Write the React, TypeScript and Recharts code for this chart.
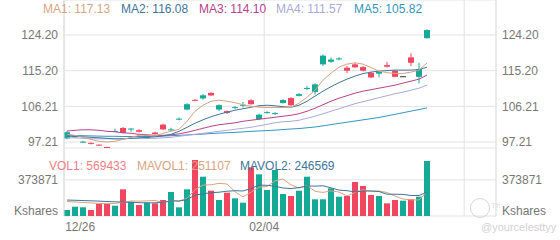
import React from 'react';
import { ComposedChart, Bar, Line, XAxis, YAxis, CartesianGrid, Cell } from 'recharts';

const FONT = '"Liberation Sans", Arial, sans-serif';

// daily candles, oldest first
const opens = [98.1, 98.4, 97.2, 97.0, 96.55, 95.95, 99.9, 100.75, 100.4, 100.2, 98.1, 99.6, 101.6, 100.2, 102.9, 105.4, 107.85, 108.2, 109.6, 105.4, 105.0, 105.8, 106.4, 107.75, 103.0, 104.55, 104.3, 107.05, 108.3, 108.85, 110.6, 109.85, 116.8, 117.45, 118.05, 115.95, 116.8, 116.1, 114.65, 114.45, 116.6, 115.2, 113.8, 118.55, 113.65, 123.4];
const closes = [99.7, 98.7, 97.3, 96.8, 96.35, 95.8, 100.0, 99.5, 100.6, 99.8, 98.9, 99.2, 100.4, 100.4, 103.1, 106.75, 107.65, 109.0, 108.95, 106.5, 104.55, 106.0, 106.6, 106.75, 104.1, 104.75, 104.5, 107.8, 106.5, 109.3, 110.85, 111.75, 119.0, 118.0, 118.3, 115.2, 116.05, 115.2, 113.5, 114.9, 116.2, 113.65, 113.8, 117.2, 115.6, 125.45];
const highs = [99.9, 98.9, 97.5, 97.1, 96.6, 96.0, 100.6, 101.0, 100.7, 100.4, 99.0, 99.8, 101.8, 100.8, 103.4, 107.0, 108.0, 109.3, 109.8, 106.7, 105.2, 106.3, 107.3, 108.0, 104.4, 105.0, 104.7, 108.0, 108.5, 109.5, 111.3, 112.0, 119.3, 118.5, 118.6, 116.4, 117.2, 116.4, 114.9, 115.0, 117.4, 115.4, 113.85, 119.6, 117.2, 125.6];
const lows = [97.9, 98.2, 97.0, 96.6, 96.3, 95.75, 99.8, 99.4, 99.8, 99.6, 98.0, 99.1, 100.2, 100.0, 102.7, 105.2, 107.5, 107.9, 108.8, 105.05, 104.3, 105.6, 105.9, 106.6, 102.7, 104.4, 104.0, 106.9, 106.3, 108.7, 110.3, 109.2, 116.4, 117.2, 117.8, 114.6, 115.9, 115.0, 113.3, 113.5, 116.0, 113.5, 113.75, 116.35, 112.0, 123.3];
const volumes = [62100, 96300, 90200, 62400, 124300, 124100, 106800, 276200, 148300, 113900, 137800, 131200, 165600, 248400, 90100, 276300, 579800, 406900, 261800, 165700, 241300, 183200, 137900, 504100, 431600, 269200, 476200, 227800, 207100, 261900, 406800, 172900, 173100, 286700, 199800, 207200, 352100, 310600, 217300, 206900, 131300, 165800, 158400, 172800, 199900, 569433];

const ma1 = [99.15, 98.9, 98.39, 97.89, 97.38, 97.2, 97.38, 97.89, 98.39, 98.9, 98.9, 98.77, 99.41, 99.91, 100.42, 102.44, 104.97, 106.49, 107.5, 107.75, 107.5, 107.12, 106.62, 106.24, 105.98, 105.91, 105.91, 105.91, 105.98, 107.0, 108.51, 110.29, 112.82, 114.59, 116.1, 116.86, 117.19, 116.86, 115.98, 115.09, 114.71, 114.51, 114.51, 114.84, 115.35, 117.13];
const ma2 = [98.65, 98.65, 98.52, 98.39, 98.27, 98.14, 98.01, 98.01, 98.14, 98.27, 98.39, 98.52, 98.77, 99.15, 99.91, 100.92, 101.94, 102.82, 103.58, 104.21, 104.72, 105.23, 105.6, 105.98, 106.36, 106.49, 106.36, 106.11, 105.98, 106.49, 107.5, 108.77, 110.03, 111.17, 112.18, 113.07, 113.83, 114.46, 114.84, 115.09, 115.22, 115.35, 115.35, 115.35, 115.47, 116.08];
const ma3 = [99.99, 100.16, 100.29, 100.29, 100.16, 99.91, 99.79, 99.53, 99.41, 99.15, 99.03, 98.9, 98.9, 99.03, 99.28, 99.66, 100.16, 100.67, 101.18, 101.56, 101.81, 102.06, 102.44, 102.7, 102.95, 103.2, 103.45, 103.71, 103.96, 104.34, 104.97, 105.73, 106.62, 107.5, 108.26, 108.89, 109.53, 110.03, 110.41, 110.79, 111.17, 111.55, 112.06, 112.56, 113.07, 114.1];
const ma4 = [98.27, 98.27, 98.14, 98.01, 98.01, 98.01, 98.01, 98.01, 98.14, 98.14, 98.14, 98.14, 98.27, 98.39, 98.65, 98.9, 99.15, 99.41, 99.66, 99.91, 100.16, 100.42, 100.67, 100.92, 101.3, 101.68, 102.06, 102.32, 102.44, 102.7, 103.2, 103.71, 104.34, 104.97, 105.6, 106.24, 106.87, 107.38, 107.88, 108.39, 108.89, 109.4, 109.78, 110.29, 110.79, 111.57];
const ma5 = [98.9, 98.85, 98.8, 98.75, 98.7, 98.65, 98.65, 98.6, 98.6, 98.6, 98.6, 98.65, 98.7, 98.8, 98.9, 99.0, 99.1, 99.2, 99.35, 99.45, 99.55, 99.65, 99.75, 99.9, 100.0, 100.1, 100.2, 100.35, 100.5, 100.6, 100.8, 101.0, 101.3, 101.6, 101.9, 102.2, 102.5, 102.8, 103.1, 103.4, 103.8, 104.2, 104.6, 105.0, 105.4, 105.82];

const mavol1 = [150000, 145000, 140000, 135000, 130000, 128000, 130000, 140000, 155800, 153800, 156600, 161400, 139400, 159400, 154600, 182200, 272000, 320200, 323000, 338200, 331200, 251800, 198000, 246400, 299600, 305200, 363800, 381800, 322400, 288400, 316000, 255400, 244400, 260400, 248000, 208000, 243800, 271400, 257400, 258800, 243600, 206400, 175800, 167000, 165600, 251107];
const mavol2 = [165000, 163000, 160000, 157000, 154000, 150000, 147000, 144000, 141000, 138000, 136000, 137000, 141000, 157600, 154200, 169400, 216700, 229800, 241200, 246400, 256700, 261900, 259100, 284700, 318900, 318200, 307800, 289900, 284400, 294000, 310600, 309600, 313100, 291400, 268200, 262000, 249600, 257900, 258900, 253400, 225800, 225100, 223600, 212200, 212200, 246569];

const priceTicks = [97.21, 106.21, 115.2, 124.2];
const volTicks = [0, 373871];
const dateTickIndex = [0, 25, 50];
const dateLabels = ['12/26', '02/04', ''];

const UP = '#14aa96';
const DOWN = '#f0465f';
const C_MA1 = '#d9a383';
const C_MA2 = '#41759a';
const C_MA3 = '#b8428e';
const C_MA4 = '#aaa8dc';
const C_MA5 = '#3595c2';
const C_VOL = '#ec7f83';
const GRID = '#e3e3e3';
const AXIS_TXT = '#777';

const rows = opens.map((o, i) => ({
  i,
  open: o,
  close: closes[i],
  high: highs[i],
  low: lows[i],
  range: [lows[i], highs[i]],
  vol: volumes[i],
  ma1: ma1[i],
  ma2: ma2[i],
  ma3: ma3[i],
  ma4: ma4[i],
  ma5: ma5[i],
  mavol1: mavol1[i],
  mavol2: mavol2[i],
}));

const gridTicks = dateTickIndex.map((d) => d - 0.35);
const last = rows.length - 1;

const candleColor = (o: number, c: number) => (c > o ? UP : c < o ? DOWN : '#333');

const Candle = (props: any) => {
  const { x, y, width, height, payload } = props;
  if (x == null || y == null || !payload) return null;
  const { open, close, high, low } = payload;
  const top = Math.min(y, y + height);
  const h = Math.abs(height);
  const ppu = high > low ? h / (high - low) : 0;
  const bTop = top + (high - Math.max(open, close)) * ppu;
  const bBot = top + (high - Math.min(open, close)) * ppu;
  const cx = x + width / 2;
  const color = candleColor(open, close);
  return (
    <g>
      <line x1={cx} x2={cx} y1={top} y2={top + h} stroke={color} strokeWidth={1} />
      <rect x={x} y={bTop} width={width} height={Math.max(1, bBot - bTop)} fill={color} />
    </g>
  );
};

const VolTick = (props: any) => {
  const { x, y, payload, textAnchor } = props;
  const zero = payload.value === 0;
  return (
    <text x={x} y={y} dy={zero ? -1.5 : 4.3} textAnchor={textAnchor} fill={AXIS_TXT} fontSize={12} fontFamily={FONT}>
      {zero ? 'Kshares' : String(payload.value)}
    </text>
  );
};

const DateTick = (props: any) => {
  const { x, y, index } = props;
  const first = index === 0;
  return (
    <text x={first ? x + 1 : x} y={y} dy="0.71em" textAnchor={first ? 'start' : 'middle'} fill={AXIS_TXT} fontSize={12} fontFamily={FONT}>
      {dateLabels[index]}
    </text>
  );
};

const lineProps = { dot: false, strokeWidth: 1, isAnimationActive: false, activeDot: false } as any;

export default function App() {
  const maLegend = [
    { name: 'MA1', v: ma1[last], c: C_MA1, left: 43 },
    { name: 'MA2', v: ma2[last], c: C_MA2, left: 121 },
    { name: 'MA3', v: ma3[last], c: C_MA3, left: 199 },
    { name: 'MA4', v: ma4[last], c: C_MA4, left: 276 },
    { name: 'MA5', v: ma5[last], c: C_MA5, left: 354 },
  ];
  const volLegend = [
    { text: `VOL1: ${volumes[last]}`, c: C_VOL, left: 49 },
    { text: `MAVOL1: ${mavol1[last]}`, c: C_MA1, left: 137 },
    { text: `MAVOL2: ${mavol2[last]}`, c: C_MA2, left: 240 },
  ];

  return (
    <div style={{ position: 'absolute', left: 0, top: 0, width: 560, height: 240, background: '#fff', overflow: 'hidden', fontFamily: FONT }}>
      {/* price pane */}
      <div style={{ position: 'absolute', left: 0, top: 0 }}>
        <ComposedChart width={560} height={148} data={rows} margin={{ top: 0, right: 0, bottom: 0, left: 0 }}>
          <CartesianGrid stroke={GRID} yAxisId="l" />
          <XAxis type="number" dataKey="i" domain={[-0.375, 53.625]} allowDataOverflow ticks={gridTicks} interval={0} hide />
          <YAxis
            yAxisId="l"
            orientation="left"
            width={64}
            domain={[95.7, 133.03]}
            allowDataOverflow
            ticks={priceTicks}
            interval={0}
            tickFormatter={(v: number) => v.toFixed(2)}
            axisLine={{ stroke: GRID }}
            tickLine={false}
            tickSize={6}
            tickMargin={0}
            tick={{ fill: AXIS_TXT, fontSize: 12, fontFamily: FONT }}
          />
          <YAxis
            yAxisId="r"
            orientation="right"
            width={64}
            domain={[95.7, 133.03]}
            allowDataOverflow
            ticks={priceTicks}
            interval={0}
            tickFormatter={(v: number) => v.toFixed(2)}
            axisLine={{ stroke: GRID }}
            tickLine={false}
            tickSize={6}
            tickMargin={0}
            tick={{ fill: AXIS_TXT, fontSize: 12, fontFamily: FONT }}
          />
          <Line yAxisId="r" dataKey="ma5" stroke={C_MA5} {...lineProps} />
          <Line yAxisId="l" dataKey="ma4" stroke={C_MA4} {...lineProps} />
          <Line yAxisId="l" dataKey="ma3" stroke={C_MA3} {...lineProps} />
          <Line yAxisId="l" dataKey="ma2" stroke={C_MA2} {...lineProps} />
          <Line yAxisId="l" dataKey="ma1" stroke={C_MA1} {...lineProps} />
          <Bar yAxisId="l" dataKey="range" barSize={6} shape={<Candle />} isAnimationActive={false} />
        </ComposedChart>
      </div>

      {/* volume pane */}
      <div style={{ position: 'absolute', left: 0, top: 148 }}>
        <ComposedChart width={560} height={92} data={rows} margin={{ top: 0, right: 0, bottom: 0, left: 0 }}>
          <CartesianGrid stroke={GRID} yAxisId="l" />
          <XAxis
            type="number"
            dataKey="i"
            domain={[-0.375, 53.625]}
            allowDataOverflow
            ticks={gridTicks}
            interval={0}
            height={24}
            axisLine={false}
            tickLine={false}
            tickSize={6}
            tickMargin={0}
            tick={<DateTick />}
          />
          <YAxis
            yAxisId="l"
            orientation="left"
            width={64}
            domain={[0, 704026]}
            allowDataOverflow
            ticks={volTicks}
            interval={0}
            axisLine={{ stroke: GRID }}
            tickLine={false}
            tickSize={6}
            tickMargin={0}
            tick={<VolTick />}
          />
          <YAxis
            yAxisId="r"
            orientation="right"
            width={64}
            domain={[0, 704026]}
            allowDataOverflow
            ticks={volTicks}
            interval={0}
            axisLine={{ stroke: GRID }}
            tickLine={false}
            tickSize={6}
            tickMargin={0}
            tick={<VolTick />}
          />
          <Bar yAxisId="l" dataKey="vol" barSize={6} isAnimationActive={false}>
            {rows.map((r, i) => (
              <Cell key={i} fill={r.close >= r.open ? UP : DOWN} />
            ))}
          </Bar>
          <Line yAxisId="l" dataKey="mavol1" stroke={C_MA1} {...lineProps} />
          <Line yAxisId="r" dataKey="mavol2" stroke={C_MA2} {...lineProps} />
        </ComposedChart>
      </div>

      {/* legends */}
      {maLegend.map((m) => (
        <div key={m.name} style={{ position: 'absolute', top: 2, left: m.left, fontSize: 12, lineHeight: '14px', color: m.c, whiteSpace: 'nowrap' }}>
          {m.name}: {m.v.toFixed(2)}
        </div>
      ))}
      {volLegend.map((m) => (
        <div key={m.text} style={{ position: 'absolute', top: 159, left: m.left, fontSize: 12, lineHeight: '14px', color: m.c, whiteSpace: 'nowrap' }}>
          {m.text}
        </div>
      ))}

      {/* watermark */}
      <div style={{ position: 'absolute', left: 470, top: 198, width: 18, height: 18, borderRadius: '50%', border: '1px solid #d6d6d6' }} />
      <div style={{ position: 'absolute', left: 491, top: 201, fontSize: 8, color: '#dcdcdc' }}>Th</div>
      <div style={{ position: 'absolute', left: 481, top: 221, fontSize: 11, color: '#d2d2d2', whiteSpace: 'nowrap' }}>@yourcelesttyy</div>
    </div>
  );
}
